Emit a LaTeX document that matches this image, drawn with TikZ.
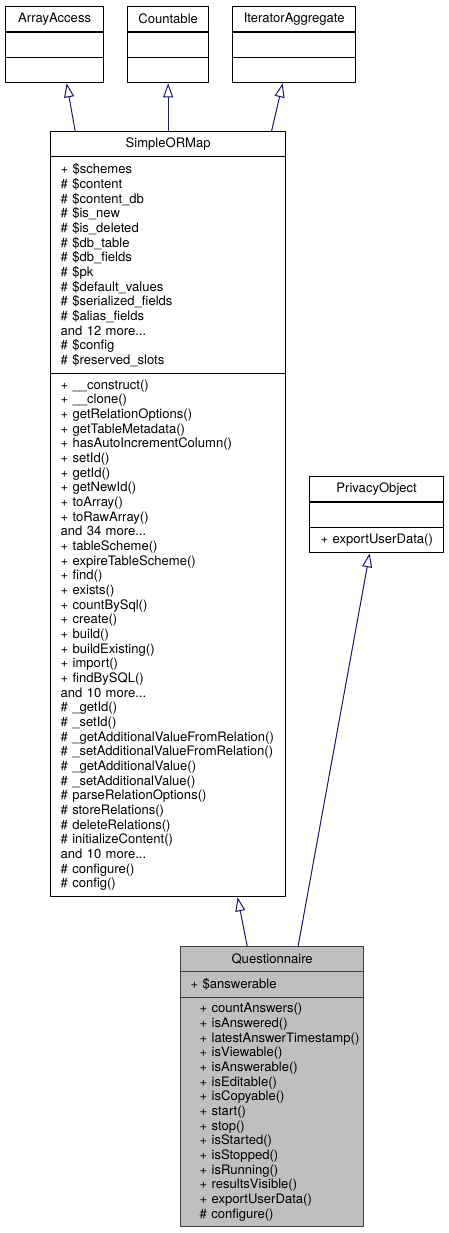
\documentclass[tikz,border=0pt]{standalone}
\usepackage{fontspec}
\setmainfont{TeX Gyre Heros}
\usetikzlibrary{arrows.meta}
\definecolor{navy}{HTML}{191970}
\newdimen\ux \ux=0.75pt
\tikzset{
	box/.style={draw=black, line width=1.3\ux, fill=white, inner sep=0pt, anchor=north west, font=\fontsize{9.8}{11}\selectfont},
	title/.style={box, align=center, minimum height=25\ux},
	list/.style={box, align=left, inner xsep=#1\ux},
	grey/.style={fill=black!25, draw=black!75},
	inh/.style={draw=navy, line width=0.75pt, -{Triangle[open, length=10.5pt, width=7.5pt]}}
}
\begin{document}
\begin{tikzpicture}[x=0.75pt, y=-0.75pt, line join=round]
				\useasboundingbox[fill=white] (0,0) rectangle (449,1233);
				% interfaces
				\node[title, minimum width=98\ux] (aaT) at (5,6) {ArrayAccess};
				\node[title, minimum width=98\ux] (aaA) at (5,32) {};
				\node[title, minimum width=98\ux] (aaM) at (5,57) {};
				\node[title, minimum width=81\ux] (ctT) at (127,6) {Countable};
				\node[title, minimum width=81\ux] (ctA) at (127,32) {};
				\node[title, minimum width=81\ux] (ctM) at (127,57) {};
				\node[title, minimum width=123\ux] (iaT) at (232,6) {IteratorAggregate};
				\node[title, minimum width=123\ux] (iaA) at (232,32) {};
				\node[title, minimum width=123\ux] (iaM) at (232,57) {};
				% SimpleORMap
				\node[title, minimum width=235\ux] (sormT) at (50,131) {SimpleORMap};
				\node[list=10, text width=215\ux, minimum height=217\ux] (sormA) at (50,156) {+ \$schemes\\
					\# \$content\\ \# \$content\_db\\ \# \$is\_new\\ \# \$is\_deleted\\ \# \$db\_table\\
					\# \$db\_fields\\ \# \$pk\\ \# \$default\_values\\ \# \$serialized\_fields\\
					\# \$alias\_fields\\ and 12 more...\\ \# \$config\\ \# \$reserved\_slots};
				\node[list=10, text width=215\ux, minimum height=523\ux] (sormM) at (50,373) {+ \_\_construct()\\
					+ \_\_clone()\\ + getRelationOptions()\\ + getTableMetadata()\\ + hasAutoIncrementColumn()\\
					+ setId()\\ + getId()\\ + getNewId()\\ + toArray()\\ + toRawArray()\\ and 34 more...\\
					+ tableScheme()\\ + expireTableScheme()\\ + find()\\ + exists()\\ + countBySql()\\
					+ create()\\ + build()\\ + buildExisting()\\ + import()\\ + findBySQL()\\ and 10 more...\\
					\# \_getId()\\ \# \_setId()\\ \# \_getAdditionalValueFromRelation()\\
					\# \_setAdditionalValueFromRelation()\\ \# \_getAdditionalValue()\\
					\# \_setAdditionalValue()\\ \# parseRelationOptions()\\ \# storeRelations()\\
					\# deleteRelations()\\ \# initializeContent()\\ and 10 more...\\ \# configure()\\ \# config()};
				% PrivacyObject
				\node[title, minimum width=134\ux] (poT) at (309,476) {PrivacyObject};
				\node[title, minimum width=134\ux] (poA) at (309,502) {};
				\node[list=11, text width=112\ux, minimum height=25\ux] (poM) at (309,527) {+ exportUserData()};
				% Questionnaire
				\node[title, grey, minimum width=183\ux] (qT) at (180,946) {Questionnaire};
				\node[list=10, grey, text width=163\ux, minimum height=26\ux] (qA) at (180,971) {+ \$answerable};
				\node[list=19, grey, text width=145\ux, minimum height=229\ux] (qM) at (180,997) {+ countAnswers()\\
					+ isAnswered()\\ \mbox{+ latestAnswerTimestamp()}\\ + isViewable()\\ + isAnswerable()\\
					+ isEditable()\\ + isCopyable()\\ + start()\\ + stop()\\ + isStarted()\\ + isStopped()\\
					+ isRunning()\\ + resultsVisible()\\ + exportUserData()\\ \# configure()};
				% inheritance
				\draw[inh] ([xshift=-69.75pt]sormT.north) -- ([xshift=9pt]aaM.south);
				\draw[inh] (sormT.north) -- (ctM.south);
				\draw[inh] ([xshift=77.6pt]sormT.north) -- ([xshift=-8.6pt]iaM.south);
				\draw[inh] ([xshift=-18.75pt]qT.north) -- ([xshift=52.1pt]sormM.south);
				\draw[inh] ([xshift=19.5pt]qT.north) -- ([xshift=-5.25pt]poM.south);
			\end{tikzpicture}
\end{document}
